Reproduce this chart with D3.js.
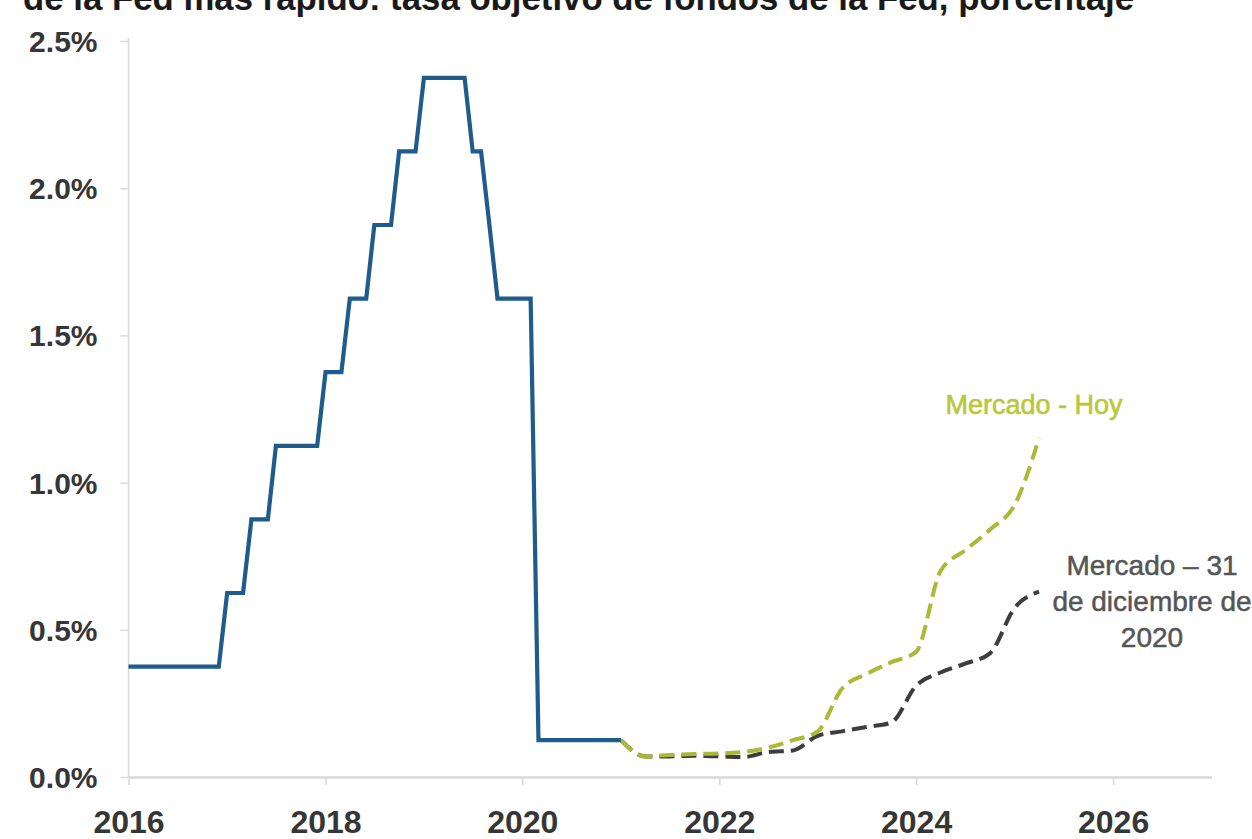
<!DOCTYPE html>
<html>
<head>
<meta charset="utf-8">
<script src="https://cdn.jsdelivr.net/npm/d3@7"></script>
<style>
  html, body { margin: 0; padding: 0; background: #ffffff; overflow: hidden; }
  svg { display: block; }
</style>
</head>
<body>
<svg id="chart" width="1252" height="839"></svg>
<script>
// Fed funds target rate (midpoint of the range, %), at the months where the path bends
const fedMonths = [
  "2016-01", "2016-12", "2017-01", "2017-03", "2017-04", "2017-06", "2017-07", "2017-12",
  "2018-01", "2018-03", "2018-04", "2018-06", "2018-07", "2018-09", "2018-10", "2018-12",
  "2019-01", "2019-06", "2019-07", "2019-08", "2019-09", "2019-10", "2020-02", "2020-03",
  "2021-01"
];
const fedRates = [
  0.375, 0.375, 0.625, 0.625, 0.875, 0.875, 1.125, 1.125,
  1.375, 1.375, 1.625, 1.625, 1.875, 1.875, 2.125, 2.125,
  2.375, 2.375, 2.125, 2.125, 1.875, 1.625, 1.625, 0.125,
  0.125
];

// Market-implied policy rate path (%), quarterly
const marketMonths = [
  "2021-01", "2021-04", "2021-07", "2021-10", "2022-01", "2022-04", "2022-07", "2022-10",
  "2023-01", "2023-04", "2023-07", "2023-10", "2024-01", "2024-04", "2024-07", "2024-10",
  "2025-01", "2025-04"
];
const marketToday = [
  0.125, 0.070, 0.075, 0.078, 0.080, 0.085, 0.100, 0.125,
  0.155, 0.300, 0.350, 0.390, 0.425, 0.700, 0.770, 0.840,
  0.925, 1.150
];
const marketDec2020 = [
  0.125, 0.070, 0.070, 0.072, 0.070, 0.068, 0.085, 0.090,
  0.140, 0.155, 0.170, 0.185, 0.310, 0.355, 0.385, 0.420,
  0.575, 0.630
];

const yearTicks = [2016, 2018, 2020, 2022, 2024, 2026];
const rateTicks = [0, 0.5, 1.0, 1.5, 2.0, 2.5];

const titleText = "de la Fed más rápido: tasa objetivo de fondos de la Fed, porcentaje";
const labelToday = "Mercado - Hoy";
const labelDec2020 = ["Mercado – 31", "de diciembre de", "2020"];

const parseMonth = d3.timeParse("%Y-%m");

const svg = d3.select("#chart");
const W = 1252, H = 839;
svg.append("rect").attr("width", W).attr("height", H).attr("fill", "#ffffff");

const x = d3.scaleTime()
  .domain([new Date(2016, 0, 1), new Date(2027, 0, 1)])
  .range([128.5, 1211.5]);
const y = d3.scaleLinear()
  .domain([0, 2.5])
  .range([777, 41]);

const sansBold = "'Liberation Sans', Arial, 'DejaVu Sans', sans-serif";

// Title line (upper part of the heading sits above the frame)
svg.append("text")
  .attr("x", 23)
  .attr("y", 10)
  .attr("font-family", sansBold)
  .attr("font-weight", "bold")
  .attr("font-size", 35)
  .attr("fill", "#1a1a1a")
  .attr("textLength", 1111)
  .attr("lengthAdjust", "spacingAndGlyphs")
  .text(titleText);

// Y axis
const yAxis = d3.axisLeft(y)
  .tickValues(rateTicks)
  .tickFormat(d => d.toFixed(1) + "%")
  .tickSize(8)
  .tickSizeOuter(0);

const gy = svg.append("g")
  .attr("transform", `translate(${x.range()[0]},0)`)
  .call(yAxis);
gy.select(".domain")
  .attr("stroke", "#d9d9d9")
  .attr("stroke-width", 1.5)
  .attr("d", `M0,${y(0)}V${y(2.5) - 3}`);
gy.selectAll(".tick line").attr("stroke", "#d9d9d9").attr("stroke-width", 1.5);
gy.selectAll(".tick text")
  .attr("x", -31)
  .attr("dy", "0.35em")
  .attr("font-family", sansBold)
  .attr("font-weight", "bold")
  .attr("font-size", 30)
  .attr("fill", "#363636");

// X axis
const xAxis = d3.axisBottom(x)
  .tickValues(yearTicks.map(yr => new Date(yr, 0, 1)))
  .tickFormat(d3.timeFormat("%Y"))
  .tickSize(8)
  .tickSizeOuter(0);

const gx = svg.append("g")
  .attr("transform", `translate(0,${y(0)})`)
  .call(xAxis);
gx.select(".domain").attr("stroke", "#d9d9d9").attr("stroke-width", 2.5);
gx.selectAll(".tick line").attr("stroke", "#d9d9d9").attr("stroke-width", 1.5);
gx.selectAll(".tick text")
  .attr("y", 56)
  .attr("dy", 0)
  .attr("font-family", sansBold)
  .attr("font-weight", "bold")
  .attr("font-size", 32)
  .attr("fill", "#363636");

// Series
const fedData = fedMonths.map((m, i) => ({ date: parseMonth(m), value: fedRates[i] }));
const todayData = marketMonths.map((m, i) => ({ date: parseMonth(m), value: marketToday[i] }));
const dec2020Data = marketMonths.map((m, i) => ({ date: parseMonth(m), value: marketDec2020[i] }));

const stepLine = d3.line()
  .x(d => x(d.date))
  .y(d => y(d.value));

const smoothLine = d3.line()
  .x(d => x(d.date))
  .y(d => y(d.value))
  .curve(d3.curveMonotoneX);

svg.append("path")
  .datum(dec2020Data)
  .attr("d", smoothLine)
  .attr("fill", "none")
  .attr("stroke", "#3d3d3d")
  .attr("stroke-width", 4)
  .attr("stroke-dasharray", "15,7");

svg.append("path")
  .datum(todayData)
  .attr("d", smoothLine)
  .attr("fill", "none")
  .attr("stroke", "#aab936")
  .attr("stroke-width", 4)
  .attr("stroke-dasharray", "15,7");

svg.append("path")
  .datum(fedData)
  .attr("d", stepLine)
  .attr("fill", "none")
  .attr("stroke", "#1f5c8b")
  .attr("stroke-width", 4.2)
  .attr("stroke-linejoin", "miter");

// Series labels
svg.append("text")
  .attr("x", 1034)
  .attr("y", 414)
  .attr("text-anchor", "middle")
  .attr("font-family", "'Liberation Sans', Arial, sans-serif")
  .attr("font-size", 27)
  .attr("fill", "#b9c83a")
  .attr("stroke", "#b9c83a")
  .attr("stroke-width", 0.6)
  .text(labelToday);

svg.append("text")
  .attr("text-anchor", "middle")
  .attr("font-family", "'Liberation Sans', Arial, sans-serif")
  .attr("font-size", 28)
  .attr("fill", "#555555")
  .attr("stroke", "#555555")
  .attr("stroke-width", 0.5)
  .selectAll("tspan")
  .data(labelDec2020)
  .join("tspan")
  .attr("x", 1152)
  .attr("y", (d, i) => 575 + i * 36)
  .text(d => d);
</script>
</body>
</html>
